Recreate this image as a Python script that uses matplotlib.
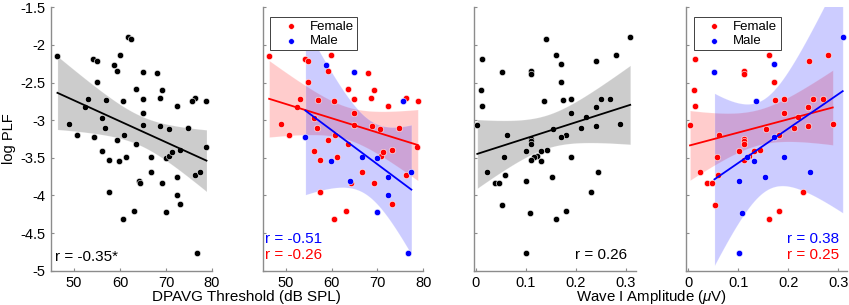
import numpy as np
import matplotlib
matplotlib.use('Agg')
import matplotlib.pyplot as plt

plt.rcParams['font.family'] = ['Liberation Sans', 'DejaVu Sans']
plt.rcParams['font.size'] = 11
plt.rcParams['axes.unicode_minus'] = False
plt.rcParams['mathtext.fontset'] = 'custom'
plt.rcParams['mathtext.rm'] = 'Liberation Sans'
plt.rcParams['mathtext.it'] = 'Liberation Sans:italic'

# DPAVG threshold (dB SPL) vs log PLF, with sex of each subject
thr_x = [46.4, 61.7, 62.3, 59.9, 54.2, 54.9, 58.7, 59.3, 64.9, 68.0,
         54.9, 63.5, 69.2, 76.2, 75.6, 78.8, 68.7, 64.9, 60.6, 57.0,
         53.1, 52.4, 72.4, 64.9, 49.0, 56.1, 56.8, 64.9, 68.8, 70.6,
         74.8, 50.7, 54.3, 59.3, 60.8, 63.5, 78.7, 73.1, 56.1, 61.2,
         57.5, 59.8, 66.7, 69.9, 70.7, 71.2, 66.7, 64.1, 64.3, 69.2,
         72.4, 76.2, 77.4, 57.5, 72.4, 73.1, 63.1, 69.9, 60.6, 76.7]
thr_y = [-2.15, -1.90, -1.92, -2.13, -2.19, -2.22, -2.27, -2.35, -2.36, -2.37,
         -2.49, -2.59, -2.60, -2.70, -2.75, -2.74, -2.70, -2.72, -2.74, -2.73,
         -2.72, -2.83, -2.81, -2.91, -3.05, -2.97, -3.11, -3.07, -3.08, -3.12,
         -3.10, -3.20, -3.23, -3.26, -3.20, -3.31, -3.36, -3.40, -3.41, -3.49,
         -3.53, -3.54, -3.49, -3.50, -3.47, -3.42, -3.69, -3.81, -3.83, -3.84,
         -3.76, -3.73, -3.69, -3.96, -4.00, -4.12, -4.21, -4.22, -4.31, -4.76]
thr_sex = list('FFFFFFMFMF'
               'FFFFMFFFFF'
               'FFFFFFFFFF'
               'FFMFFFFFFF'
               'FMMMFFFMFF'
               'MFMFMFFMFM')

# Wave I amplitude (uV) vs log PLF
amp_x = [0.309, 0.141, 0.161, 0.280, 0.013, 0.171, 0.241, 0.052, 0.111, 0.111,
         0.171, 0.011, 0.013, 0.136, 0.174, 0.191, 0.250, 0.269, 0.240, 0.191,
         0.220, 0.003, 0.289, 0.240, 0.211, 0.155, 0.062, 0.181, 0.171, 0.111,
         0.111, 0.111, 0.101, 0.143, 0.131, 0.122, 0.117, 0.111, 0.131, 0.057,
         0.191, 0.023, 0.059, 0.153, 0.244, 0.038, 0.047, 0.101, 0.230, 0.053,
         0.108, 0.181, 0.161, 0.101]
amp_y = [-1.90, -1.92, -2.13, -2.14, -2.19, -2.25, -2.22, -2.36, -2.35, -2.38,
         -2.49, -2.60, -2.81, -2.75, -2.73, -2.72, -2.72, -2.72, -2.82, -2.90,
         -2.96, -3.06, -3.05, -3.08, -3.11, -3.12, -3.20, -3.20, -3.22, -3.25,
         -3.28, -3.32, -3.41, -3.39, -3.41, -3.47, -3.49, -3.53, -3.54, -3.49,
         -3.49, -3.69, -3.73, -3.76, -3.69, -3.83, -3.84, -3.81, -3.96, -4.13,
         -4.23, -4.21, -4.31, -4.76]
amp_sex = list('MFFFFMFMFF'
               'FFFMFFFFFF'
               'FFFFFFFFMF'
               'FFFFFFMFMF'
               'MFFMMFFMFF'
               'MFFM')

r_all = ['r = -0.35*', 'r = 0.26']
r_male = ['r = -0.51', 'r = 0.38']
r_female = ['r = -0.26', 'r = 0.25']

W, H = 849, 305
fig = plt.figure(figsize=(W / 100, H / 100), dpi=100)

axis_grey = '0.55'
bottom, top = 270.7, 7.3
panels = [(51, 212), (262.7, 423.3), (474.3, 635.7), (686, 846.7)]
axes = []
for x0, x1 in panels:
    ax = fig.add_axes([x0 / W, 1 - bottom / H, (x1 - x0) / W, (bottom - top) / H])
    axes.append(ax)


def fit_band(ax, x, y, color):
    # least squares line with simultaneous 95% confidence band
    x = np.asarray(x)
    y = np.asarray(y)
    n = len(x)
    p = np.polyfit(x, y, 1)
    res = y - np.polyval(p, x)
    s = np.sqrt(np.sum(res ** 2) / (n - 2))
    xm = x.mean()
    sxx = np.sum((x - xm) ** 2)
    v = n - 2
    F = v / 2 * (0.05 ** (-2 / v) - 1)
    m = np.sqrt(2 * F)
    xs = np.linspace(x.min(), x.max(), 120)
    yh = np.polyval(p, xs)
    hw = m * s * np.sqrt(1 / n + (xs - xm) ** 2 / sxx)
    ax.fill_between(xs, yh - hw, yh + hw, color=color, alpha=0.2,
                    edgecolor='white', linewidth=0.6, zorder=1)
    ax.plot(xs, yh, color=color, lw=1.3, zorder=4)


def scatter(ax, x, y, color, label=None):
    return ax.scatter(x, y, s=21, color=color, edgecolors='white',
                      linewidths=0.4, zorder=3, label=label)


datasets = [(thr_x, thr_y, thr_sex), (amp_x, amp_y, amp_sex)]
for k, (x, y, sex) in enumerate(datasets):
    x = np.array(x)
    y = np.array(y)
    sex = np.array(sex)
    ax_all = axes[2 * k]
    ax_sex = axes[2 * k + 1]

    # all subjects
    fit_band(ax_all, x, y, 'k')
    scatter(ax_all, x, y, 'k')

    # split by sex
    f = sex == 'F'
    mm = sex == 'M'
    fit_band(ax_sex, x[f], y[f], 'r')
    fit_band(ax_sex, x[mm], y[mm], 'b')
    h1 = scatter(ax_sex, x[f], y[f], 'r', 'Female')
    h2 = scatter(ax_sex, x[mm], y[mm], 'b', 'Male')
    leg = ax_sex.legend(handles=[h1, h2], loc='upper left',
                        bbox_to_anchor=(0.047, 0.962), borderaxespad=0,
                        fontsize=9.5, frameon=True, fancybox=False,
                        framealpha=1, edgecolor='0.25', scatterpoints=1,
                        handlelength=2.6, handletextpad=0.15, borderpad=0.25,
                        labelspacing=0.15, markerscale=0.9)
    leg.get_frame().set_linewidth(0.7)
    leg.set_zorder(10)

    if k == 0:
        ax_all.text(0.025, 0.053, r_all[k], transform=ax_all.transAxes,
                    ha='left', va='center', fontsize=11)
        ax_sex.text(0.014, 0.119, r_male[k], transform=ax_sex.transAxes,
                    ha='left', va='center', color='b', fontsize=11)
        ax_sex.text(0.014, 0.060, r_female[k], transform=ax_sex.transAxes,
                    ha='left', va='center', color='r', fontsize=11)
    else:
        ax_all.text(0.948, 0.060, r_all[k], transform=ax_all.transAxes,
                    ha='right', va='center', fontsize=11)
        ax_sex.text(0.954, 0.119, r_male[k], transform=ax_sex.transAxes,
                    ha='right', va='center', color='b', fontsize=11)
        ax_sex.text(0.954, 0.060, r_female[k], transform=ax_sex.transAxes,
                    ha='right', va='center', color='r', fontsize=11)

yticks = np.arange(-5, -1.4, 0.5)
for i, ax in enumerate(axes):
    ax.set_ylim(-5, -1.5)
    ax.set_yticks(yticks)
    if i == 0:
        ax.set_yticklabels(['%g' % t for t in yticks])
    else:
        ax.set_yticklabels([])
    if i < 2:
        ax.set_xlim(45, 80)
        ax.set_xticks([50, 60, 70, 80])
        ax.set_xticklabels(['50', '60', '70', '80'])
    else:
        ax.set_xlim(-0.003 if i == 2 else -0.005, 0.32 if i == 2 else 0.317)
        ax.set_xticks([0, 0.1, 0.2, 0.3])
        ax.set_xticklabels(['0', '0.1', '0.2', '0.3'])
    for side in ['top', 'right']:
        ax.spines[side].set_visible(False)
    for side in ['left', 'bottom']:
        ax.spines[side].set_color(axis_grey)
        ax.spines[side].set_linewidth(1.0)
    ax.tick_params(direction='in', length=2.5, width=0.8, color=axis_grey,
                   labelsize=10.5, pad=3.5)
    ax.tick_params(axis='y', pad=4)
    ax.set_facecolor('none')

fig.text(9.3 / W, 1 - 139 / H, 'log PLF', rotation=90, ha='center',
         va='center', fontsize=10.5)
fig.text(246.7 / W, 1 - 301 / H, 'DPAVG Threshold (dB SPL)', ha='center',
         va='baseline', fontsize=11)
fig.text(651.7 / W, 1 - 301 / H, r'Wave I Amplitude ($\mu$V)', ha='center',
         va='baseline', fontsize=10.8)

fig.savefig('out.png', dpi=100)
